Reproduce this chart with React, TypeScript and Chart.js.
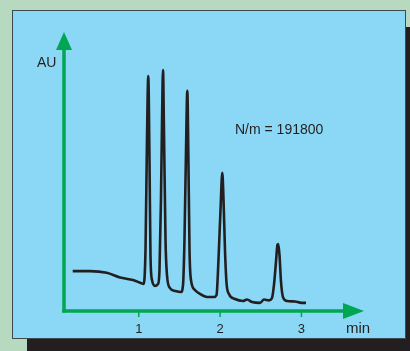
import React, { useEffect, useRef } from "react";
import { Chart, registerables } from "chart.js";

Chart.register(...registerables);

// Retention time (min)
const times: number[] = [
  0.188, 0.4, 0.606, 0.77, 0.929, 1.036,
  1.058, 1.083, 1.101, 1.117, 1.132, 1.144, 1.163, 1.2, 1.237,
  1.255, 1.273, 1.288, 1.298, 1.31, 1.329, 1.347, 1.384, 1.446, 1.519,
  1.544, 1.562, 1.581, 1.597, 1.609, 1.624, 1.642, 1.692, 1.753, 1.839, 1.925,
  1.956, 1.98, 2.005, 2.027, 2.042, 2.06, 2.079, 2.109, 2.183, 2.281, 2.331,
  2.394, 2.49, 2.54, 2.601, 2.638,
  2.662, 2.687, 2.705, 2.715, 2.73, 2.749, 2.773, 2.822, 2.921, 2.982, 3.056,
];
// Detector response (AU, relative)
const absorbance: number[] = [
  0.143, 0.143, 0.137, 0.12, 0.111, 0.099,
  0.097, 0.219, 0.613, 0.842, 0.541, 0.201, 0.111, 0.09, 0.097,
  0.147, 0.398, 0.72, 0.864, 0.649, 0.254, 0.129, 0.082, 0.072, 0.068,
  0.093, 0.254, 0.577, 0.789, 0.577, 0.219, 0.111, 0.075, 0.061, 0.05, 0.05,
  0.057, 0.183, 0.362, 0.495, 0.398, 0.219, 0.1, 0.061, 0.043, 0.036, 0.041,
  0.032, 0.029, 0.041, 0.038, 0.047,
  0.093, 0.176, 0.237, 0.24, 0.201, 0.104, 0.05, 0.036, 0.034, 0.03, 0.029,
];
const tickValues: number[] = [1, 2, 3];
const tickLabels: string[] = ["1", "2", "3"];
const xTitle = "min";
const yTitle = "AU";
const annotation = "N/m = 191800";

const X_MIN = 0.081;
const X_MAX = 3.769;

const GREEN = "#00a651";
const INK = "#231f20";
const FONT = '"Liberation Sans", Arial, sans-serif';

const framePlugin = {
  id: "frame",
  beforeDraw(chart: any) {
    const { ctx, width, height } = chart;
    ctx.save();
    ctx.fillStyle = "#b6d9c0";
    ctx.fillRect(0, 0, width, height);
    // shadow
    ctx.fillStyle = INK;
    ctx.fillRect(27, 27, 383, 324);
    // panel
    ctx.fillStyle = "#8ad8f5";
    ctx.fillRect(12, 10, 394, 329);
    ctx.strokeStyle = "#3d4a50";
    ctx.lineWidth = 1;
    ctx.strokeRect(12.5, 10.5, 393, 328);
    ctx.restore();
  },
  beforeDatasetsDraw(chart: any) {
    const { ctx, chartArea, scales } = chart;
    const xs = scales.x;
    const ys = scales.y;
    const x0 = xs.getPixelForValue(X_MIN);
    const y0 = ys.getPixelForValue(0);
    const top = chartArea.top;
    const right = chartArea.right;
    ctx.save();
    ctx.fillStyle = GREEN;
    ctx.strokeStyle = GREEN;
    ctx.lineWidth = 3.5;
    // y axis
    ctx.beginPath();
    ctx.moveTo(x0, y0 + 1.5);
    ctx.lineTo(x0, top + 16);
    ctx.stroke();
    ctx.beginPath();
    ctx.moveTo(x0, top);
    ctx.lineTo(x0 - 8, top + 18);
    ctx.lineTo(x0 + 8, top + 18);
    ctx.closePath();
    ctx.fill();
    // x axis
    ctx.beginPath();
    ctx.moveTo(x0 - 1.75, y0);
    ctx.lineTo(right - 19, y0);
    ctx.stroke();
    ctx.beginPath();
    ctx.moveTo(right, y0);
    ctx.lineTo(right - 21, y0 - 8);
    ctx.lineTo(right - 21, y0 + 8);
    ctx.closePath();
    ctx.fill();
    // ticks
    ctx.lineWidth = 1.5;
    tickValues.forEach((v) => {
      const px = xs.getPixelForValue(v);
      ctx.beginPath();
      ctx.moveTo(px, y0);
      ctx.lineTo(px, y0 + 6);
      ctx.stroke();
    });
    // labels
    ctx.fillStyle = INK;
    ctx.font = `13px ${FONT}`;
    ctx.textAlign = "center";
    ctx.textBaseline = "alphabetic";
    tickValues.forEach((v, i) => {
      ctx.fillText(tickLabels[i], xs.getPixelForValue(v), y0 + 21.5);
    });
    ctx.font = `15px ${FONT}`;
    ctx.fillText(xTitle, 358, y0 + 21.5);
    ctx.font = `14px ${FONT}`;
    ctx.textAlign = "left";
    ctx.fillText(yTitle, 37, 67);
    ctx.fillText(annotation, 235, 134);
    ctx.restore();
  },
};

export default function App() {
  const ref = useRef<HTMLCanvasElement | null>(null);
  useEffect(() => {
    if (!ref.current) return;
    const chart = new Chart(ref.current, {
      type: "line",
      data: {
        datasets: [
          {
            data: times.map((t, i) => ({ x: t, y: absorbance[i] })),
            borderColor: INK,
            borderWidth: 2.6,
            pointRadius: 0,
            cubicInterpolationMode: "monotone",
            fill: false,
          },
        ],
      },
      options: {
        responsive: false,
        animation: false,
        devicePixelRatio: 1,
        layout: { padding: { left: 64, right: 46, top: 32, bottom: 40 } },
        plugins: { legend: { display: false }, tooltip: { enabled: false } },
        scales: {
          x: { type: "linear", min: X_MIN, max: X_MAX, display: false },
          y: { type: "linear", min: 0, max: 1, display: false },
        },
      },
      plugins: [framePlugin],
    } as any);
    return () => chart.destroy();
  }, []);
  return (
    <div style={{ position: "fixed", left: 0, top: 0, width: 410, height: 351 }}>
      <canvas ref={ref} width={410} height={351} style={{ display: "block" }} />
    </div>
  );
}
